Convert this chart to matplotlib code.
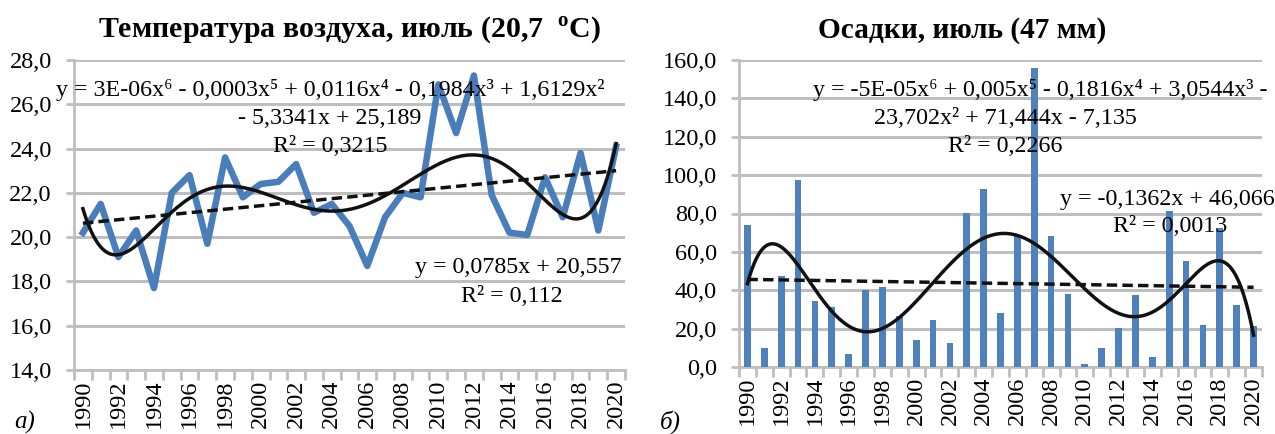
import numpy as np
import matplotlib
matplotlib.use("Agg")
import matplotlib.pyplot as plt
import matplotlib.ticker as ticker

plt.rcParams['font.family'] = ['Liberation Serif', 'DejaVu Serif']
plt.rcParams['mathtext.fontset'] = 'custom'
plt.rcParams['mathtext.rm'] = 'Liberation Serif'
plt.rcParams['mathtext.bf'] = 'Liberation Serif:bold'

# данные
years = list(range(1990, 2021))
temp_july = [20.2, 21.5, 19.1, 20.3, 17.7, 22.0, 22.8, 19.7, 23.6, 21.8,
             22.4, 22.5, 23.3, 21.1, 21.5, 20.5, 18.7, 20.9, 22.0, 21.8,
             26.9, 24.7, 27.3, 21.9, 20.2, 20.1, 22.7, 20.9, 23.8, 20.3, 24.1]
prec_july = [74.0, 10.1, 47.3, 97.7, 34.3, 31.5, 6.8, 40.3, 41.9, 26.4,
             14.3, 24.3, 12.7, 80.3, 92.9, 28.0, 68.5, 155.8, 68.2, 37.9,
             1.4, 9.9, 20.2, 37.4, 5.0, 81.2, 55.1, 22.1, 72.5, 32.3, 21.4]

temp_title = "Температура воздуха, июль (20,7  $^{\\mathbf{o}}$C)"
prec_title = "Осадки, июль (47 мм)"
temp_poly_eq = ["y = 3E-06x⁶ - 0,0003x⁵ + 0,0116x⁴ - 0,1984x³ + 1,6129x²",
                "- 5,3341x + 25,189", "R² = 0,3215"]
temp_lin_eq = ["y = 0,0785x + 20,557", "R² = 0,112"]
prec_poly_eq = ["y = -5E-05x⁶ + 0,005x⁵ - 0,1816x⁴ + 3,0544x³ -",
                "23,702x² + 71,444x - 7,135", "R² = 0,2266"]
prec_lin_eq = ["y = -0,1362x + 46,066", "R² = 0,0013"]

BLUE = '#4a7ebb'
BAR = '#4f81bd'
GRID = '#bfbfbf'
EQ_FS = 17.3


def comma_fmt(v, pos):
    return f"{v:.1f}".replace('.', ',')


def style_axes(ax, ymin, ymax, ystep):
    n = len(years)
    x = np.arange(1, n + 1)
    ax.set_xlim(0.5, n + 0.5)
    ax.set_ylim(ymin, ymax)
    ax.yaxis.set_major_locator(ticker.MultipleLocator(ystep))
    ax.yaxis.set_major_formatter(ticker.FuncFormatter(comma_fmt))
    ax.grid(axis='y', color=GRID, linewidth=2.2)
    ax.set_axisbelow(True)
    ax.set_xticks(x[::2])
    ax.set_xticklabels([str(y) for y in years[::2]], rotation=90, fontsize=17.5)
    ax.set_xticks(np.arange(0.5, n + 1.5, 1), minor=True)
    ax.tick_params(axis='x', which='major', length=0, pad=7)
    ax.tick_params(axis='x', which='minor', length=7, width=2, color=GRID)
    ax.tick_params(axis='y', length=6, width=2, color=GRID, labelsize=17.5, pad=10)
    for s in ['top', 'right']:
        ax.spines[s].set_visible(False)
    for s in ['left', 'bottom']:
        ax.spines[s].set_color(GRID)
        ax.spines[s].set_linewidth(2)
    return x


def trends(ax, x, y):
    xs = np.linspace(1, len(x), 300)
    p6 = np.polynomial.Polynomial.fit(x, y, 6)
    p1 = np.polynomial.Polynomial.fit(x, y, 1)
    ax.plot(xs, p6(xs), color='#111111', linewidth=2.5, zorder=4)
    ax.plot(xs, p1(xs), color='#111111', linewidth=2.5, linestyle=(0, (3, 1.5)), zorder=4)


fig = plt.figure(figsize=(12.75, 4.34), dpi=100)

# а) температура
ax1 = fig.add_axes([74 / 1275, 1 - 370 / 434, 551 / 1275, 310 / 434])
x = style_axes(ax1, 14, 28, 2)
ax1.plot(x, temp_july, color=BLUE, linewidth=4.7, zorder=3)
trends(ax1, x, temp_july)
fig.text(350 / 1275, 1 - 30 / 434, temp_title, ha='center', va='center',
         fontsize=21.5, fontweight='bold')
fig.text(330 / 1275, 1 - 90 / 434, temp_poly_eq[0], ha='center', va='center', fontsize=EQ_FS)
fig.text(330 / 1275, 1 - 118 / 434, temp_poly_eq[1], ha='center', va='center', fontsize=EQ_FS)
fig.text(330 / 1275, 1 - 146 / 434, temp_poly_eq[2], ha='center', va='center', fontsize=EQ_FS)
fig.text(622 / 1275, 1 - 268 / 434, temp_lin_eq[0], ha='right', va='center', fontsize=EQ_FS)
fig.text(512 / 1275, 1 - 296 / 434, temp_lin_eq[1], ha='center', va='center', fontsize=EQ_FS)
fig.text(14 / 1275, 1 - 422 / 434, "а)", ha='left', va='center', fontsize=18, style='italic')

# б) осадки
ax2 = fig.add_axes([739 / 1275, 1 - 367 / 434, 523 / 1275, 307 / 434])
x = style_axes(ax2, 0, 160, 20)
ax2.bar(x, prec_july, width=0.4, color=BAR, zorder=3)
trends(ax2, x, prec_july)
fig.text(962 / 1275, 1 - 30 / 434, prec_title, ha='center', va='center',
         fontsize=21.2, fontweight='bold')
fig.text(1040 / 1275, 1 - 90 / 434, prec_poly_eq[0], ha='center', va='center', fontsize=EQ_FS)
fig.text(1005 / 1275, 1 - 118 / 434, prec_poly_eq[1], ha='center', va='center', fontsize=EQ_FS)
fig.text(1005 / 1275, 1 - 146 / 434, prec_poly_eq[2], ha='center', va='center', fontsize=EQ_FS)
fig.text(1275 / 1275, 1 - 200 / 434, prec_lin_eq[0], ha='right', va='center', fontsize=EQ_FS)
fig.text(1170 / 1275, 1 - 227 / 434, prec_lin_eq[1], ha='center', va='center', fontsize=EQ_FS)
fig.text(660 / 1275, 1 - 422 / 434, "б)", ha='left', va='center', fontsize=18, style='italic')

fig.savefig('out.png', dpi=100)
